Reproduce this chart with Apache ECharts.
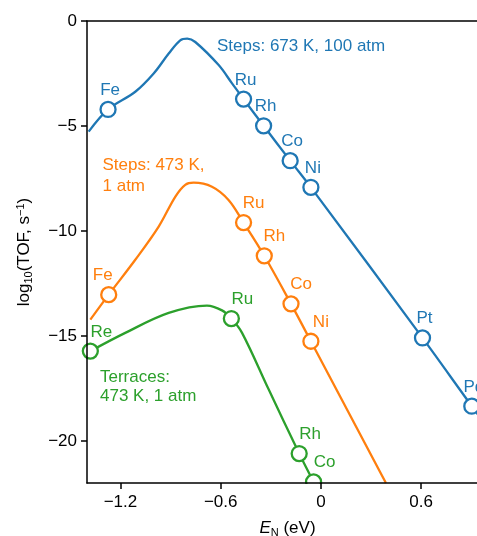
<!DOCTYPE html>
<html>
<head>
<meta charset="utf-8">
<script src="https://cdn.jsdelivr.net/npm/echarts@6/dist/echarts.min.js"></script>
<style>
  html, body { margin: 0; padding: 0; background: #fff; }
  #chart { width: 477px; height: 536px; }
</style>
</head>
<body>
<div id="chart"></div>
<script>
// axis ticks
const xTicks = [-1.2, -0.6, 0, 0.6];
const yTicks = [0, -5, -10, -15, -20];

// Steps: 673 K, 100 atm
const stepsHighCurveX = [-1.39, -1.274, -1.111, -1.001, -0.911, -0.842, -0.80, -0.752, -0.612, -0.532, -0.463, -0.343, -0.184, -0.060, 0.608, 0.903, 1.0];
const stepsHighCurveY = [-5.27, -4.21, -3.37, -2.50, -1.55, -0.92, -0.84, -1.00, -2.10, -2.97, -3.72, -4.99, -6.65, -7.92, -15.09, -18.34, -19.38];
const stepsHighMetals = ['Fe', 'Ru', 'Rh', 'Co', 'Ni', 'Pt', 'Pd'];
const stepsHighMetalX = [-1.274, -0.463, -0.343, -0.184, -0.060, 0.608, 0.903];
const stepsHighMetalY = [-4.21, -3.72, -4.99, -6.65, -7.92, -15.09, -18.34];

// Steps: 473 K, 1 atm
const stepsLowCurveX = [-1.38, -1.270, -1.111, -0.971, -0.871, -0.812, -0.762, -0.652, -0.553, -0.463, -0.339, -0.179, -0.060, 0.389];
const stepsLowCurveY = [-14.22, -13.03, -11.37, -9.79, -8.36, -7.80, -7.70, -7.89, -8.52, -9.60, -11.18, -13.47, -15.25, -22.0];
const stepsLowMetals = ['Fe', 'Ru', 'Rh', 'Co', 'Ni'];
const stepsLowMetalX = [-1.270, -0.463, -0.339, -0.179, -0.060];
const stepsLowMetalY = [-13.03, -9.60, -11.18, -13.47, -15.25];

// Terraces: 473 K, 1 atm
const terraceCurveX = [-1.380, -1.171, -0.911, -0.682, -0.592, -0.536, -0.472, -0.313, -0.130, -0.044];
const terraceCurveY = [-15.72, -14.85, -13.90, -13.55, -13.78, -14.17, -14.85, -17.54, -20.60, -21.95];
const terraceMetals = ['Re', 'Ru', 'Rh', 'Co'];
const terraceMetalX = [-1.380, -0.536, -0.130, -0.044];
const terraceMetalY = [-15.72, -14.17, -20.60, -21.95];

const BLUE = '#1f77b4';
const ORANGE = '#ff7f0e';
const GREEN = '#2ca02c';
const FONT = '"Liberation Sans", Arial, Helvetica, sans-serif';
const FS = 17;

function zip(xs, ys) {
    return xs.map(function (x, i) { return [x, ys[i]]; });
}

function minus(v) {
    return String(v).replace('-', '\u2212');
}

function curveSeries(name, xs, ys, color) {
    return {
        name: name,
        type: 'line',
        data: zip(xs, ys),
        smooth: 0.35,
        showSymbol: false,
        lineStyle: { color: color, width: 2.3 },
        z: 2
    };
}

function metalSeries(name, labels, xs, ys, color, offset, overrides) {
    overrides = overrides || {};
    return {
        name: name,
        type: 'scatter',
        symbol: 'circle',
        symbolSize: 15,
        clip: false,
        data: labels.map(function (m, i) {
            const item = { name: m, value: [xs[i], ys[i]] };
            if (overrides[m]) item.label = { offset: overrides[m] };
            return item;
        }),
        itemStyle: { color: '#fff', borderColor: color, borderWidth: 2.3, opacity: 1 },
        label: {
            show: true,
            position: 'top',
            distance: 2,
            formatter: '{b}',
            color: color,
            fontSize: FS,
            fontFamily: FONT,
            offset: offset
        },
        z: 3
    };
}

const chart = echarts.init(document.getElementById('chart'), null, { renderer: 'canvas' });

const axisLine = { show: true, onZero: false, lineStyle: { color: '#000', width: 1.5 } };

const option = {
    animation: false,
    backgroundColor: '#fff',
    textStyle: { fontFamily: FONT },
    grid: { left: 87, width: 401, top: 21, height: 462, containLabel: false, outerBoundsMode: 'none' },
    xAxis: [
        {
            type: 'value',
            position: 'bottom',
            min: -1.4,
            max: 1.0,
            axisLine: axisLine,
            axisTick: { show: true, customValues: xTicks, length: 6, lineStyle: { color: '#000', width: 1.5 } },
            axisLabel: {
                customValues: xTicks,
                formatter: minus,
                color: '#000',
                fontSize: FS,
                fontFamily: FONT,
                margin: 11
            },
            splitLine: { show: false },
            name: '{i|E}{s|N} (eV)',
            nameLocation: 'middle',
            nameGap: 36,
            nameTextStyle: {
                color: '#000',
                fontSize: FS,
                fontFamily: FONT,
                rich: {
                    i: { fontStyle: 'italic', fontSize: FS, fontFamily: FONT, color: '#000' },
                    s: { fontSize: 11, fontFamily: FONT, color: '#000', verticalAlign: 'bottom', padding: [8, 0, 0, 0] }
                }
            },
            z: 10
        },
        {
            type: 'value',
            position: 'top',
            min: -1.4,
            max: 1.0,
            axisLine: axisLine,
            axisTick: { show: false },
            axisLabel: { show: false },
            splitLine: { show: false },
            z: 10
        }
    ],
    yAxis: {
        type: 'value',
        position: 'left',
        min: -22,
        max: 0,
        axisLine: axisLine,
        axisTick: { show: true, customValues: yTicks, length: 6, lineStyle: { color: '#000', width: 1.5 } },
        axisLabel: {
            customValues: yTicks,
            formatter: minus,
            color: '#000',
            fontSize: FS,
            fontFamily: FONT,
            margin: 10
        },
        splitLine: { show: false },
        name: 'log{s|10}(TOF, s{p|\u22121})',
        nameLocation: 'middle',
        nameGap: 53,
        nameTextStyle: {
            color: '#000',
            fontSize: FS,
            fontFamily: FONT,
            rich: {
                s: { fontSize: 11, fontFamily: FONT, color: '#000', verticalAlign: 'bottom', padding: [8, 0, 0, 0] },
                p: { fontSize: 11, fontFamily: FONT, color: '#000', verticalAlign: 'top', padding: [0, 0, 8, 0] }
            }
        },
        z: 10
    },
    series: [
        curveSeries('Steps 673 K', stepsHighCurveX, stepsHighCurveY, BLUE),
        curveSeries('Steps 473 K', stepsLowCurveX, stepsLowCurveY, ORANGE),
        curveSeries('Terraces 473 K', terraceCurveX, terraceCurveY, GREEN),
        metalSeries('Steps 673 K metals', stepsHighMetals, stepsHighMetalX, stepsHighMetalY, BLUE, [2, 0]),
        metalSeries('Steps 473 K metals', stepsLowMetals, stepsLowMetalX, stepsLowMetalY, ORANGE, [10, 0], { Fe: [-6, 0] }),
        metalSeries('Terraces metals', terraceMetals, terraceMetalX, terraceMetalY, GREEN, [11, 0])
    ]
};

chart.setOption(option);

// mask below the x axis so markers sitting on the axis are cut like the original
const axisBottom = chart.convertToPixel({ yAxisIndex: 0 }, -22);

function note(text, x, y, color, lineHeight) {
    return {
        type: 'text',
        x: x,
        y: y,
        z: 20,
        style: {
            text: text,
            fill: color,
            fontSize: FS,
            fontFamily: FONT,
            lineHeight: lineHeight,
            verticalAlign: 'top'
        }
    };
}

chart.setOption({
    graphic: [
        {
            type: 'rect',
            z: 5,
            shape: { x: 0, y: axisBottom + 1, width: 477, height: 536 - axisBottom },
            style: { fill: '#fff' }
        },
        note('Steps: 673 K, 100 atm', 217, 35.5, BLUE, 21),
        note('Steps: 473 K,\n1 atm', 102.5, 154.5, ORANGE, 21),
        note('Terraces:\n473 K, 1 atm', 100, 367.5, GREEN, 19.5)
    ]
});

window.addEventListener('resize', function () {
    chart.resize();
});
</script>
</body>
</html>
